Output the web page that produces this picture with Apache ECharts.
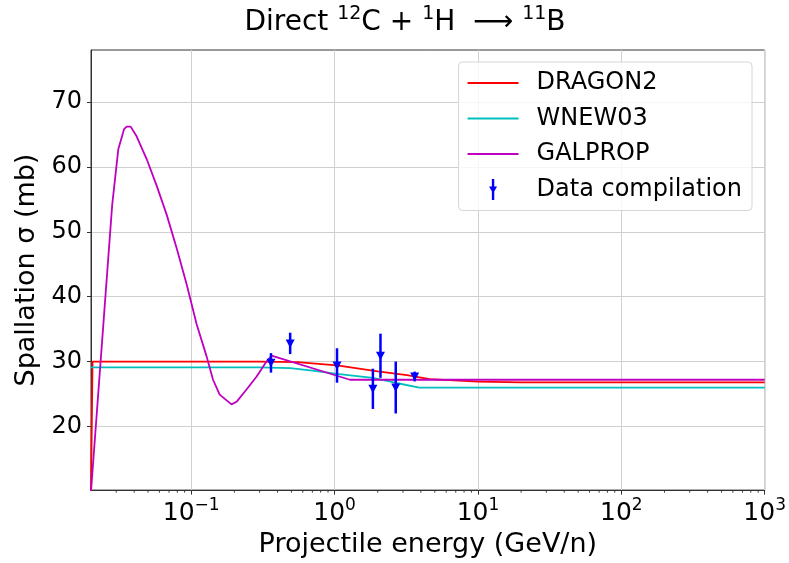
<!DOCTYPE html>
<html><head><meta charset="utf-8">
<script src="https://cdn.jsdelivr.net/npm/echarts@6/dist/echarts.min.js"></script>
<style>html,body{margin:0;padding:0;background:#fff}#c{width:789px;height:563px}</style>
</head><body><div id="c"></div>
<script>
// Axis ranges
const X_MIN = 0.02, X_MAX = 1000;
const Y_MIN = 10.2, Y_MAX = 78;
const xTickExponents = [-1, 0, 1, 2, 3];
const yTicks = [20, 30, 40, 50, 60, 70];

// DRAGON2
const dragonE = [0.02, 0.0205, 0.3, 0.55, 1.04, 2.0, 3.2, 4.6, 10, 20, 1000];
const dragonSigma = [10.0, 30.0, 30.0, 29.9, 29.4, 28.5, 27.9, 27.3, 26.9, 26.8, 26.8];
// WNEW03
const wnewE = [0.02, 0.3, 0.49, 0.70, 1.04, 1.85, 2.7, 3.9, 1000];
const wnewSigma = [29.1, 29.1, 29.0, 28.6, 28.1, 27.5, 26.7, 26.0, 26.0];
// GALPROP
const galpropE = [0.02, 0.0281, 0.0310, 0.0340, 0.0355, 0.0378, 0.0416, 0.0489, 0.0574, 0.0675, 0.0791, 0.0929, 0.109, 0.128, 0.142, 0.158, 0.191, 0.207, 0.243, 0.286, 0.335, 0.363, 1.28, 1000];
const galpropSigma = [10.0, 54.1, 62.7, 65.8, 66.2, 66.2, 64.7, 61.2, 57.1, 52.6, 47.5, 41.9, 35.8, 30.8, 27.2, 24.9, 23.4, 23.8, 25.7, 27.7, 30.0, 30.9, 27.2, 27.2];
// Data compilation
const dataE = [0.36, 0.49, 1.04, 1.85, 2.09, 2.67, 3.62];
const dataSigma = [29.8, 32.8, 29.4, 25.8, 30.9, 26.0, 27.7];
const dataErr = [1.5, 1.65, 2.65, 3.1, 3.4, 4.0, 0.75];

const lg = Math.log10;
const zip = (xs, ys) => xs.map((x, i) => [lg(x), ys[i]]);

const minorTicks = [];
for (let n = -2; n <= 2; n++) for (let k = 2; k <= 9; k++) {
  const v = k * Math.pow(10, n);
  if (v > X_MIN * 1.01 && v < X_MAX) minorTicks.push([lg(v)]);
}

const FONT = 'DejaVu Sans';
const LINE_ICON = 'path://M0,0 L0,0 M0,9.5 L51,9.5 L51,11.5 L0,11.5 Z M51,21 L51,21';
const ERR_ICON = 'path://M0,0 L0,0 M51,21 L51,21 M24.3,0 L26.7,0 L26.7,21 L24.3,21 Z M21.5,7.5 L29.5,7.5 L25.5,14.5 Z';
const chart = echarts.init(document.getElementById('c'), null, {renderer: 'canvas'});
chart.setOption({
  animation: false,
  backgroundColor: '#fff',
  textStyle: {fontFamily: FONT},
  graphic: [{
    type: 'text', x: 405, y: 21, z: 10,
    style: {
      text: '{m|Direct }{s|12}{m|C + }{s|1}{m|H  ⟶ }{s|11}{m|B}',
      align: 'center', verticalAlign: 'middle', fill: '#000',
      rich: {
        m: {fontFamily: FONT, fontSize: 28, lineHeight: 32, fill: '#000', verticalAlign: 'bottom'},
        s: {fontFamily: FONT, fontSize: 19, lineHeight: 20, fill: '#000', verticalAlign: 'top'}
      }
    }
  }],
  grid: {left: 91, right: 24, top: 50, bottom: 68, show: true, borderColor: '#333', borderWidth: 1, backgroundColor: 'transparent'},
  legend: {
    orient: 'vertical', right: 37, top: 62,
    padding: [9, 10, 9, 9],
    itemWidth: 51, itemHeight: 21, itemGap: 11.5,
    backgroundColor: 'rgba(255,255,255,0.8)', borderColor: '#d6d6d6', borderWidth: 1, borderRadius: 4,
    textStyle: {fontFamily: FONT, fontSize: 24, color: '#000', padding: [0, 0, 0, 13]},
    data: [
      {name: 'DRAGON2', icon: LINE_ICON},
      {name: 'WNEW03', icon: LINE_ICON},
      {name: 'GALPROP', icon: LINE_ICON},
      {name: 'Data compilation', icon: ERR_ICON}
    ]
  },
  xAxis: {
    type: 'value', min: lg(X_MIN), max: lg(X_MAX),
    name: 'Projectile energy (GeV/n)', nameLocation: 'middle', nameGap: 36,
    nameTextStyle: {fontFamily: FONT, fontSize: 27, color: '#000'},
    axisLine: {show: true, onZero: false, lineStyle: {color: '#333', width: 1}},
    axisTick: {show: true, inside: false, length: 4.5, customValues: xTickExponents, lineStyle: {color: '#333', width: 1}},
    splitLine: {show: true, lineStyle: {color: '#d0d0d0', width: 1}},
    axisLabel: {
      margin: 7, color: '#000',
      formatter: v => {
        const r = Math.round(v);
        if (Math.abs(v - r) > 1e-6 || xTickExponents.indexOf(r) < 0) return '';
        return '{b|10}{s|' + String(r).replace('-', '\u2212') + '}';
      },
      rich: {
        b: {fontFamily: FONT, fontSize: 25, lineHeight: 29, color: '#000', verticalAlign: 'bottom'},
        s: {fontFamily: FONT, fontSize: 17, lineHeight: 18, color: '#000', verticalAlign: 'top'}
      }
    }
  },
  yAxis: {
    type: 'value', min: Y_MIN, max: Y_MAX,
    name: 'Spallation \u03c3 (mb)', nameLocation: 'middle', nameGap: 39, nameRotate: 90,
    nameTextStyle: {fontFamily: FONT, fontSize: 27, color: '#000'},
    axisLine: {show: true, onZero: false, lineStyle: {color: '#333', width: 1}},
    axisTick: {show: true, inside: false, length: 4, customValues: yTicks, lineStyle: {color: '#333', width: 1}},
    splitLine: {show: true, lineStyle: {color: '#d0d0d0', width: 1}},
    axisLabel: {
      margin: 9, fontFamily: FONT, fontSize: 24, color: '#000',
      formatter: v => (yTicks.indexOf(Math.round(v)) >= 0 && Math.abs(v - Math.round(v)) < 1e-6) ? String(Math.round(v)) : ''
    }
  },
  series: [
    {name: 'DRAGON2', type: 'line', symbol: 'none', data: zip(dragonE, dragonSigma), lineStyle: {color: '#ff0000', width: 1.8}, itemStyle: {color: '#ff0000'}, z: 3},
    {name: 'WNEW03', type: 'line', symbol: 'none', data: zip(wnewE, wnewSigma), lineStyle: {color: '#00bfbf', width: 1.8}, itemStyle: {color: '#00bfbf'}, z: 3},
    {name: 'GALPROP', type: 'line', symbol: 'none', data: zip(galpropE, galpropSigma), lineStyle: {color: '#bf00bf', width: 1.8}, itemStyle: {color: '#bf00bf'}, z: 4},
    {
      name: 'Data compilation', type: 'custom', z: 5,
      itemStyle: {color: '#0000ff'},
      data: dataE.map((e, i) => [lg(e), dataSigma[i], dataErr[i]]),
      encode: {x: 0, y: 1},
      renderItem: (params, api) => {
        const x = api.value(0), v = api.value(1), e = api.value(2);
        const t = api.coord([x, v + e]), b = api.coord([x, v - e]), c = api.coord([x, v]);
        return {type: 'group', children: [
          {type: 'line', shape: {x1: t[0], y1: t[1], x2: b[0], y2: b[1]}, style: {stroke: '#0000ff', lineWidth: 2.5}},
          {type: 'polygon', shape: {points: [[c[0] - 4.5, c[1] - 4], [c[0] + 4.5, c[1] - 4], [c[0], c[1] + 4.5]]}, style: {fill: '#0000ff'}}
        ]};
      }
    },
    {
      name: 'minorTicks', type: 'custom', clip: false, silent: true, z: 2,
      data: minorTicks, encode: {x: 0},
      renderItem: (params, api) => {
        const p = api.coord([api.value(0), Y_MIN]);
        return {type: 'line', shape: {x1: p[0], y1: p[1], x2: p[0], y2: p[1] + 2.5}, style: {stroke: '#333', lineWidth: 1}};
      }
    }
  ]
});
</script></body></html>
